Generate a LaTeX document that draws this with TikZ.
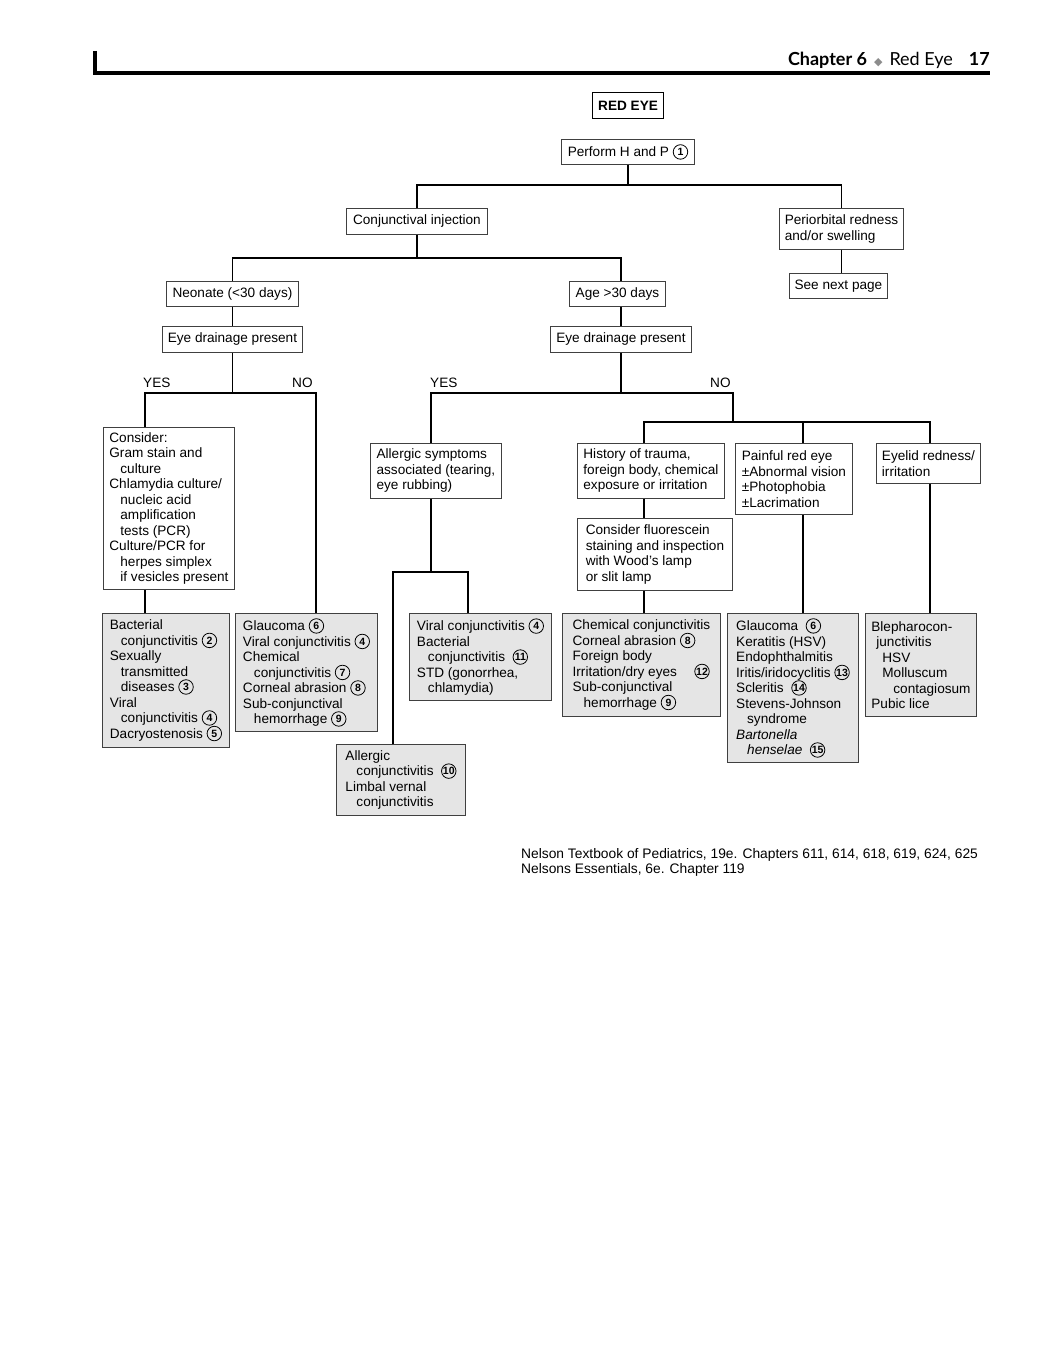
\documentclass[tikz,border=0pt]{standalone}
\usepackage{fontspec}
\setmainfont{Liberation Sans}
\newfontfamily\hdrfont{Lato}
\newfontfamily\symfont{DejaVu Sans}
\usetikzlibrary{calc}

\newcommand{\fs}{\fontsize{13.6}{15.5}\selectfont}
\newcommand{\indt}{\hspace*{11pt}}
\newcommand{\circnum}[1]{\tikz[baseline={([yshift=-1pt]n.base)}]\node[circle, draw, line width=0.8pt, fill=none, anchor=center, inner sep=0pt, minimum size=14.5pt, font=\fontsize{10.5}{10.5}\selectfont\bfseries] (n) {#1};}

\tikzset{
  box/.style={draw=black!75, line width=0.9pt, anchor=north west, align=left, inner xsep=1pt, inner ysep=1pt, font=\fs},
  gbox/.style={box, fill=black!10},
  sz/.style 2 args={minimum width=#1, minimum height=#2},
  link/.style={line width=1.7pt},
  lbl/.style={anchor=base west, inner sep=0pt, font=\fs}
}

\begin{document}
\begin{tikzpicture}[x=1pt, y=-1pt]
  \useasboundingbox[fill=white] (0,0) rectangle (1052,1346);

  % page header
  \draw[line width=3.6pt] (95,51) -- (95,73) -- (990,73);
  \node[anchor=base east, inner sep=0pt, font=\hdrfont\fontsize{18}{18}\selectfont] (hdr) at (990,66)
    {\textbf{Chapter 6}\hspace{7pt}{\color{black!45}\symfont\fontsize{11}{11}\selectfont ◆}\hspace{7pt}Red Eye\hspace{16pt}\textbf{17}};

  \node[box, sz={71pt}{26pt}, line width=1.1pt, draw=black, font=\fs\bfseries, align=center] (redeye) at (592,92) {RED EYE};
  \node[box, sz={133pt}{25pt}] (perform) at (561,139) {Perform H and P \circnum{1}};
  \node[box, sz={141pt}{26pt}] (conj) at (346,208) {Conjunctival injection};
  \node[box, sz={124pt}{41pt}] (peri) at (779,208) {Periorbital redness\\and/or swelling};
  \node[box, sz={98pt}{25pt}] (next) at (789,273) {See next page};
  \node[box, sz={132pt}{25pt}] (neo) at (166,281) {Neonate (<30 days)};
  \node[box, sz={96pt}{25pt}] (age) at (569,281) {Age >30 days};
  \node[box, sz={140pt}{26pt}] (edl) at (162,326) {Eye drainage present};
  \node[box, sz={141pt}{26pt}] (edr) at (550,326) {Eye drainage present};

  \node[lbl] (yesl) at (143,387) {YES};
  \node[lbl] (nol) at (292,387) {NO};
  \node[lbl] (yesr) at (430,387) {YES};
  \node[lbl] (nor) at (710,387) {NO};

  \node[box, sz={131pt}{162pt}] (cons) at (103,427) {Consider:\\Gram stain and\\\indt culture\\Chlamydia culture/\\\indt nucleic acid\\\indt amplification\\\indt tests (PCR)\\Culture/PCR for\\\indt herpes simplex\\\indt if vesicles present};
  \node[box, sz={131pt}{55pt}] (allg) at (370,443) {Allergic symptoms\\associated (tearing,\\eye rubbing)};
  \node[box, sz={147pt}{55pt}] (hist) at (577,443) {History of trauma,\\foreign body, chemical\\exposure or irritation};
  \node[box, sz={117pt}{71pt}] (pain) at (735,443) {Painful red eye\\±Abnormal vision\\±Photophobia\\±Lacrimation};
  \node[box, sz={104pt}{40pt}] (lid) at (876,443) {Eyelid redness/\\irritation\hspace*{36pt}};
  \node[box, sz={155pt}{72pt}] (fluo) at (577,518) {Consider fluorescein\\staining and inspection\\with Wood's lamp\\or slit lamp};

  \node[gbox, sz={127pt}{134pt}] (bact) at (102,613) {Bacterial\\\indt conjunctivitis \circnum{2}\\Sexually\\\indt transmitted\\\indt diseases \circnum{3}\\Viral\\\indt conjunctivitis \circnum{4}\\Dacryostenosis \circnum{5}};
  \node[gbox, sz={142pt}{118pt}] (glau) at (235,613) {Glaucoma \circnum{6}\\Viral conjunctivitis \circnum{4}\\Chemical\\\indt conjunctivitis \circnum{7}\\Corneal abrasion \circnum{8}\\Sub-conjunctival\\\indt hemorrhage \circnum{9}};
  \node[gbox, sz={142pt}{87pt}] (vir) at (409,613) {Viral conjunctivitis \circnum{4}\\Bacterial\\\indt conjunctivitis \ \circnum{11}\\STD (gonorrhea,\\\indt chlamydia)};
  \node[gbox, sz={129pt}{71pt}] (aconj) at (336,744) {Allergic\\\indt conjunctivitis \ \circnum{10}\\Limbal vernal\\\indt conjunctivitis};
  \node[gbox, sz={158pt}{103pt}] (chem) at (562,613) {Chemical conjunctivitis\\Corneal abrasion \circnum{8}\\Foreign body\\Irritation/dry eyes \quad\circnum{12}\\Sub-conjunctival\\\indt hemorrhage \circnum{9}};
  \node[gbox, sz={131pt}{149pt}] (glau2) at (727,613) {Glaucoma \ \circnum{6}\\Keratitis (HSV)\\Endophthalmitis\\Iritis/iridocyclitis \circnum{13}\\Scleritis \ \circnum{14}\\Stevens-Johnson\\\indt syndrome\\\textit{Bartonella}\\\indt\textit{henselae} \ \circnum{15}};
  \node[gbox, sz={111pt}{103pt}] (bleph) at (865,613) {Blepharocon-\\\hspace*{5pt}junctivitis\\\indt HSV\\\indt Molluscum\\\hspace*{22pt}contagiosum\\Pubic lice};

  \node[anchor=north west, align=left, inner sep=0pt, font=\fontsize{13.8}{15.5}\selectfont] (src) at (521,848)
    {Nelson Textbook of Pediatrics, 19e. Chapters 611, 614, 618, 619, 624, 625\\Nelsons Essentials, 6e. Chapter 119};

  % junctions
  \coordinate (j1) at (perform.south |- 0,185);
  \coordinate (j2) at (conj.south |- 0,258);
  \coordinate (jyl) at (145,393);
  \coordinate (jnl) at (316,393);
  \coordinate (jyr) at (431,393);
  \coordinate (jnr) at (733,393);
  \coordinate (jno) at (733,422);
  \coordinate (jhist) at (644,422);
  \coordinate (jpain) at (803,422);
  \coordinate (jlid) at (930,422);
  \coordinate (jal) at (431,572);
  \coordinate (jac) at (393,572);
  \coordinate (jav) at (468,572);

  \draw[link] (perform.south) -- (j1);
  \draw[link] (conj.north) |- (j1) -| (peri.north);
  \draw[link] (peri.south) -- (peri.south |- next.north);
  \draw[link] (conj.south) -- (j2);
  \draw[link] (neo.north) |- (j2) -| (edr.north |- age.north);
  \draw[link] (neo.south) -- (neo.south |- edl.north);
  \draw[link] (age.south -| edr.north) -- (edr.north);

  \draw[link] (edl.south) -- (edl.south |- jyl);
  \draw[link] (jyl |- cons.north) -- (jyl) -- (jnl) -- (jnl |- glau.north);
  \draw[link] (jyl |- cons.south) -- (jyl |- bact.north);

  \draw[link] (edr.south) -- (edr.south |- jyr);
  \draw[link] (jyr |- allg.north) -- (jyr) -- (jnr) -- (jno);
  \draw[link] (jhist |- hist.north) -- (jhist) -- (jlid) -- (jlid |- lid.north);
  \draw[link] (jpain) -- (jpain |- pain.north);
  \draw[link] (jhist |- hist.south) -- (jhist |- fluo.north);
  \draw[link] (jhist |- fluo.south) -- (jhist |- chem.north);
  \draw[link] (jpain |- pain.south) -- (jpain |- glau2.north);
  \draw[link] (jlid |- lid.south) -- (jlid |- bleph.north);

  \draw[link] (allg.south -| jal) -- (jal);
  \draw[link] (jac |- aconj.north) -- (jac) -- (jav) -- (jav |- vir.north);
\end{tikzpicture}
\end{document}
